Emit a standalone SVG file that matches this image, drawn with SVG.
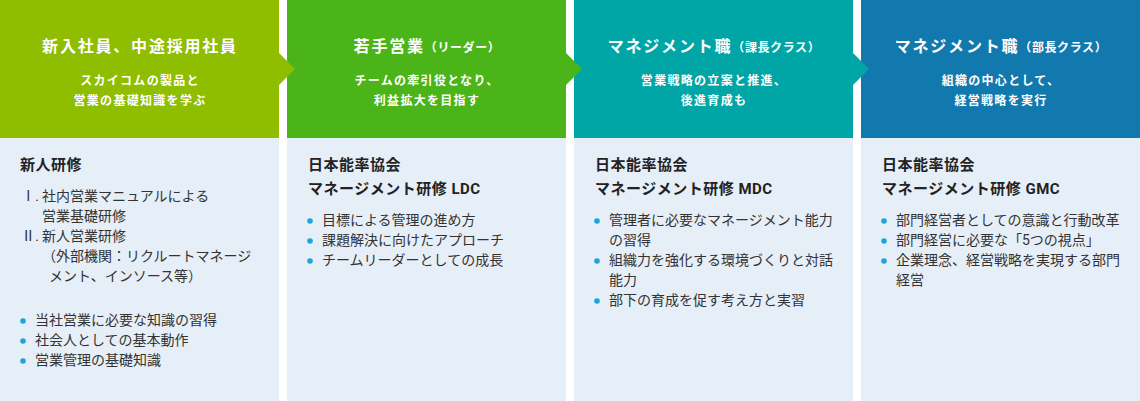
<svg xmlns="http://www.w3.org/2000/svg" width="1140" height="401" viewBox="0 0 1140 401">
<style>
text{font-family:Roboto,"Noto Sans CJK JP","Noto Sans",sans-serif;}
.body{fill:#e6eef7;}
.ttl{fill:#fff;font-size:16px;font-weight:700;letter-spacing:1.8px;text-anchor:middle;}
.ttl .sm{font-size:12px;letter-spacing:0.6px;}
.sub{fill:#fff;font-size:12px;font-weight:700;letter-spacing:1.3px;text-anchor:middle;}
.hd{fill:#222;font-size:15px;font-weight:700;letter-spacing:0.5px;}
.tx{fill:#333;font-size:14px;}
.dot{fill:#1aa6d9;}
</style>
<rect width="1140" height="401" fill="#fff"/>
<g id="col1">
<rect x="0" y="0" width="279" height="138" fill="#8fbd00"/>
<rect class="body" x="0" y="138" width="279" height="263"/>
<text class="ttl" x="140" y="52">新入社員、中途採用社員</text>
<text class="sub" x="140" y="85">スカイコムの製品と</text>
<text class="sub" x="140" y="105">営業の基礎知識を学ぶ</text>
<text class="hd" x="20" y="170">新人研修</text>
<text class="tx" x="39" y="201" text-anchor="end">Ⅰ.</text>
<text class="tx" x="42" y="201">社内営業マニュアルによる</text>
<text class="tx" x="42" y="221">営業基礎研修</text>
<text class="tx" x="39" y="241" text-anchor="end">Ⅱ.</text>
<text class="tx" x="42" y="241">新人営業研修</text>
<text class="tx" x="42" y="261">（外部機関：リクルートマネージ</text>
<text class="tx" x="49" y="281">メント、インソース等）</text>
<circle class="dot" cx="23" cy="321" r="2.8"/>
<text class="tx" x="35" y="325">当社営業に必要な知識の習得</text>
<circle class="dot" cx="23" cy="341" r="2.8"/>
<text class="tx" x="35" y="345">社会人としての基本動作</text>
<circle class="dot" cx="23" cy="361" r="2.8"/>
<text class="tx" x="35" y="365">営業管理の基礎知識</text>
</g>
<g id="col2">
<rect x="287" y="0" width="279" height="138" fill="#4bb418"/>
<rect class="body" x="287" y="138" width="279" height="263"/>
<text class="ttl" x="427" y="52">若手営業<tspan class="sm">（リーダー）</tspan></text>
<text class="sub" x="427" y="85">チームの牽引役となり、</text>
<text class="sub" x="427" y="105">利益拡大を目指す</text>
<text class="hd" x="308" y="170">日本能率協会</text>
<text class="hd" x="308" y="194">マネージメント研修 LDC</text>
<circle class="dot" cx="310" cy="221" r="2.8"/>
<text class="tx" x="322" y="225">目標による管理の進め方</text>
<circle class="dot" cx="310" cy="241" r="2.8"/>
<text class="tx" x="322" y="245">課題解決に向けたアプローチ</text>
<circle class="dot" cx="310" cy="261" r="2.8"/>
<text class="tx" x="322" y="265">チームリーダーとしての成長</text>
</g>
<g id="col3">
<rect x="574" y="0" width="279" height="138" fill="#00a6a6"/>
<rect class="body" x="574" y="138" width="279" height="263"/>
<text class="ttl" x="714" y="52">マネジメント職<tspan class="sm">（課長クラス）</tspan></text>
<text class="sub" x="714" y="85">営業戦略の立案と推進、</text>
<text class="sub" x="714" y="105">後進育成も</text>
<text class="hd" x="595" y="170">日本能率協会</text>
<text class="hd" x="595" y="194">マネージメント研修 MDC</text>
<circle class="dot" cx="597" cy="221" r="2.8"/>
<text class="tx" x="609" y="225">管理者に必要なマネージメント能力</text>
<text class="tx" x="609" y="245">の習得</text>
<circle class="dot" cx="597" cy="261" r="2.8"/>
<text class="tx" x="609" y="265">組織力を強化する環境づくりと対話</text>
<text class="tx" x="609" y="285">能力</text>
<circle class="dot" cx="597" cy="301" r="2.8"/>
<text class="tx" x="609" y="305">部下の育成を促す考え方と実習</text>
</g>
<g id="col4">
<rect x="861" y="0" width="279" height="138" fill="#1279ae"/>
<rect class="body" x="861" y="138" width="279" height="263"/>
<text class="ttl" x="1001" y="52">マネジメント職<tspan class="sm">（部長クラス）</tspan></text>
<text class="sub" x="1001" y="85">組織の中心として、</text>
<text class="sub" x="1001" y="105">経営戦略を実行</text>
<text class="hd" x="882" y="170">日本能率協会</text>
<text class="hd" x="882" y="194">マネージメント研修 GMC</text>
<circle class="dot" cx="884" cy="221" r="2.8"/>
<text class="tx" x="896" y="225">部門経営者としての意識と行動改革</text>
<circle class="dot" cx="884" cy="241" r="2.8"/>
<text class="tx" x="896" y="245">部門経営に必要な「5つの視点」</text>
<circle class="dot" cx="884" cy="261" r="2.8"/>
<text class="tx" x="896" y="265">企業理念、経営戦略を実現する部門</text>
<text class="tx" x="896" y="285">経営</text>
</g>
<g id="connectors">
<polygon points="279,53 295,69 279,85" fill="#8fbd00"/>
<polygon points="566,53 582,69 566,85" fill="#4bb418"/>
<polygon points="853,53 869,69 853,85" fill="#00a6a6"/>
</g>
</svg>
